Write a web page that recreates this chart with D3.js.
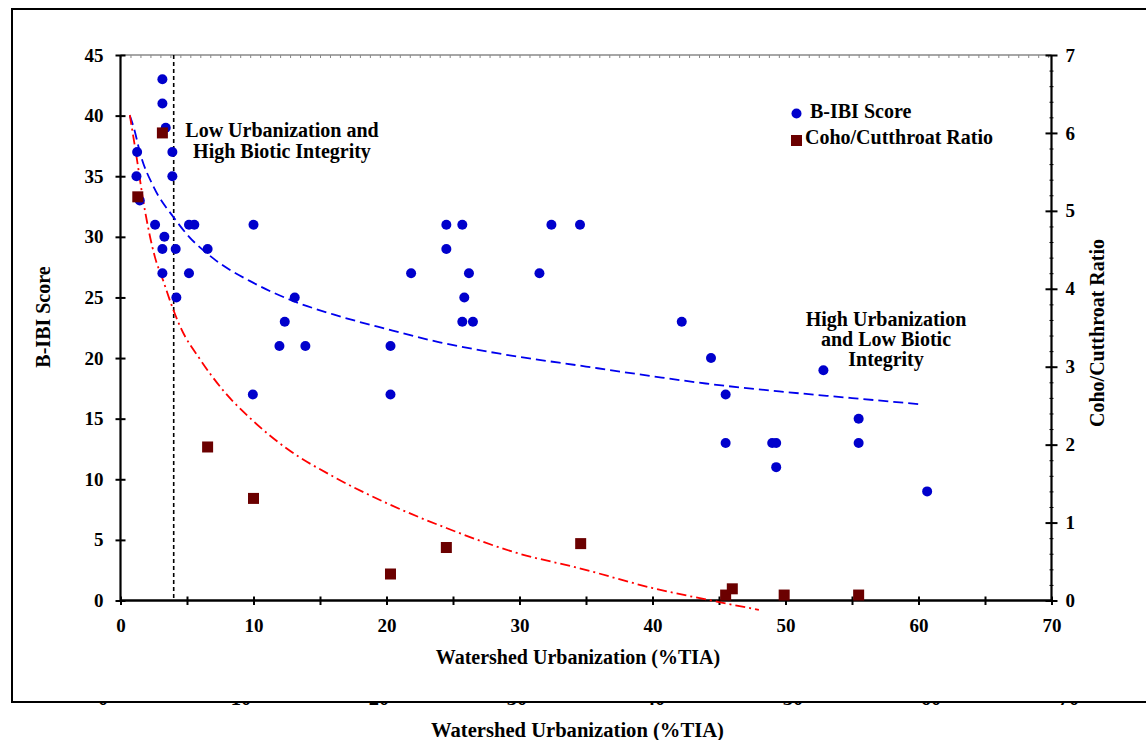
<!DOCTYPE html>
<html>
<head>
<meta charset="utf-8">
<script src="https://cdn.jsdelivr.net/npm/d3@7"></script>
<style>
  html, body { margin: 0; padding: 0; background: #fff; }
  svg text { font-family: "Liberation Serif", "Times New Roman", serif; font-weight: bold; fill: #000; }
</style>
</head>
<body>
<svg id="chart" width="1146" height="740"></svg>
<script>
// B-IBI score per watershed (% total impervious area)
const bibiTIA   = [1.25, 1.2, 1.45, 3.15, 3.15, 3.4, 3.9, 3.9, 2.6, 3.3, 3.15, 4.15, 5.15, 5.55, 6.55, 10.0,
                   3.15, 5.15, 4.2, 13.1, 12.35, 11.95, 13.9, 9.95, 20.3, 20.3, 24.5, 25.7, 24.5, 21.85, 26.2,
                   25.85, 25.7, 26.5, 32.4, 34.55, 31.5, 42.2, 44.4, 45.5, 45.5, 49.0, 49.3, 49.3, 52.85,
                   55.5, 55.5, 60.65];
const bibiScore = [37, 35, 33, 43, 41, 39, 37, 35, 31, 30, 29, 29, 31, 31, 29, 31,
                   27, 27, 25, 25, 23, 21, 21, 17, 21, 17, 31, 31, 29, 27, 27,
                   25, 23, 23, 31, 31, 27, 23, 20, 17, 13, 13, 13, 11, 19,
                   15, 13, 9];

// Coho / cutthroat ratio per watershed
const cohoTIA   = [1.3, 3.15, 6.55, 10.0, 20.3, 24.5, 34.6, 45.5, 46.0, 49.9, 55.5];
const cohoRatio = [5.18, 6.0, 1.97, 1.31, 0.34, 0.68, 0.73, 0.07, 0.15, 0.07, 0.07];

// Fitted trend curves
const bibiTrendTIA   = [0.7, 1.0, 1.5, 2.5, 4, 5, 7, 10, 13, 16, 20, 24, 28.3, 35, 40, 44, 50, 55, 60];
const bibiTrendScore = [40.0, 39.0, 36.8, 34.1, 31.6, 30.2, 28.2, 26.2, 24.7, 23.6, 22.4, 21.3, 20.4, 19.3, 18.5, 17.9, 17.2, 16.7, 16.2];
const cohoTrendTIA   = [0.7, 1.2, 1.7, 2.6, 3.2, 3.8, 4.5, 6, 7.7, 10, 12.5, 16, 20, 24.5, 29.8, 34.6, 40, 45, 48];
const cohoTrendRatio = [6.23, 5.70, 5.14, 4.40, 4.11, 3.81, 3.51, 3.09, 2.70, 2.30, 1.95, 1.59, 1.25, 0.93, 0.61, 0.41, 0.16, -0.02, -0.12];

// Threshold between low and high urbanization
const thresholdTIA = 4;

// Axis ticks
const xTicks      = [0, 5, 10, 15, 20, 25, 30, 35, 40, 45, 50, 55, 60, 65, 70];
const xTickLabels = [0, 10, 20, 30, 40, 50, 60, 70];
const yLeftTicks  = [0, 5, 10, 15, 20, 25, 30, 35, 40, 45];
const yRightTicks = [0, 1, 2, 3, 4, 5, 6, 7];

const annotLow  = ["Low Urbanization and", "High Biotic Integrity"];
const annotHigh = ["High Urbanization", "and Low Biotic", "Integrity"];
const legendLabels = ["B-IBI Score", "Coho/Cutthroat Ratio"];

const svg = d3.select("#chart");

const x  = d3.scaleLinear().domain([0, 70]).range([120.5, 1051.5]);
const yL = d3.scaleLinear().domain([0, 45]).range([600.5, 55]);
const yR = d3.scaleLinear().domain([0, 7]).range([600.5, 55]);

const BLUE = "#0000cc", MAROON = "#6b0000";
const fmtInt = d3.format("d");

// Underlying copy of the x axis, mostly hidden behind the frame
const xBack = d3.scaleLinear().domain([0, 70]).range([103, 1069]);
const back = svg.append("g");
back.selectAll("text.bk").data(xTickLabels).join("text")
  .attr("x", d => xBack(d)).attr("y", 704.5)
  .attr("text-anchor", "middle").attr("font-size", 20.5)
  .text(d => d);
back.append("text")
  .attr("x", 577.5).attr("y", 737)
  .attr("text-anchor", "middle").attr("font-size", 20.6)
  .text("Watershed Urbanization (%TIA)");

// Outer frame
svg.append("rect")
  .attr("x", 12).attr("y", 9).attr("width", 1150).attr("height", 693)
  .attr("fill", "#fff").attr("stroke", "#000").attr("stroke-width", 2);

// Top border with fine ticks
const gTop = svg.append("g").attr("transform", `translate(0,${yL(45)})`)
  .call(d3.axisTop(x).tickValues(d3.range(0, 70.01, 0.75)).tickSize(-3).tickFormat(""));
gTop.select(".domain").attr("stroke", "#888").attr("stroke-width", 1.5).attr("d", `M${x(0)},0H${x(70)}`);
gTop.selectAll(".tick line").attr("stroke", "#888").attr("stroke-width", 1);

// Bottom axis
const gX = svg.append("g").attr("transform", `translate(0,${yL(0)})`)
  .call(d3.axisBottom(x).tickValues(xTicks).tickSize(4)
    .tickFormat(d => xTickLabels.includes(d) ? fmtInt(d) : ""));
gX.select(".domain").attr("stroke", "#000").attr("stroke-width", 2.4).attr("d", `M${x(0)},0H${x(70)}`);
gX.selectAll(".tick line").attr("y1", -4).attr("y2", 4.5).attr("stroke", "#000").attr("stroke-width", 2);
gX.selectAll(".tick text").attr("y", 31).attr("dy", 0).attr("font-size", 19)
  .style("font-family", '"Liberation Serif", serif').style("font-weight", "bold").attr("fill", "#000");

// Left axis
const gL = svg.append("g").attr("transform", `translate(${x(0)},0)`)
  .call(d3.axisLeft(yL).tickValues(yLeftTicks).tickSize(5).tickFormat(fmtInt));
gL.select(".domain").attr("stroke", "#000").attr("stroke-width", 2.2).attr("d", `M0,${yL(0)}V${yL(45)}`);
gL.selectAll(".tick line").attr("x1", -5).attr("x2", 5).attr("stroke", "#000").attr("stroke-width", 2);
gL.selectAll(".tick text").attr("x", -17).attr("font-size", 19)
  .style("font-family", '"Liberation Serif", serif').style("font-weight", "bold").attr("fill", "#000");

// Right axis: fine ticks, then labelled ticks
const gR = svg.append("g").attr("transform", `translate(${x(70)},0)`)
  .call(d3.axisRight(yR).tickValues(d3.range(0, 7.001, 0.2)).tickSize(3).tickFormat(""));
gR.select(".domain").attr("stroke", "#000").attr("stroke-width", 2.2).attr("d", `M0,${yR(0)}V${yR(7)}`);
gR.selectAll(".tick line").attr("x1", -2).attr("x2", 2).attr("stroke", "#000").attr("stroke-width", 1);
const gR2 = svg.append("g").attr("transform", `translate(${x(70)},0)`)
  .call(d3.axisRight(yR).tickValues(yRightTicks).tickSize(5).tickFormat(fmtInt));
gR2.select(".domain").remove();
gR2.selectAll(".tick line").attr("x1", -6).attr("x2", 6).attr("stroke", "#000").attr("stroke-width", 2);
gR2.selectAll(".tick text").attr("x", 14).attr("font-size", 19)
  .style("font-family", '"Liberation Serif", serif').style("font-weight", "bold").attr("fill", "#000");

// Axis titles
svg.append("text").attr("x", 578).attr("y", 664).attr("text-anchor", "middle")
  .attr("font-size", 20).text("Watershed Urbanization (%TIA)");
svg.append("text").attr("transform", "translate(50,317) rotate(-90)").attr("text-anchor", "middle")
  .attr("font-size", 20).text("B-IBI Score");
svg.append("text").attr("transform", "translate(1104,333) rotate(-90)").attr("text-anchor", "middle")
  .attr("font-size", 20).text("Coho/Cutthroat Ratio");

// Threshold line
svg.append("line")
  .attr("x1", x(thresholdTIA)).attr("x2", x(thresholdTIA))
  .attr("y1", yL(45)).attr("y2", yL(0))
  .attr("stroke", "#000").attr("stroke-width", 1.6).attr("stroke-dasharray", "4,3");

// Trend curves
const bibiTrend = bibiTrendTIA.map((v, i) => [v, bibiTrendScore[i]]);
const cohoTrend = cohoTrendTIA.map((v, i) => [v, cohoTrendRatio[i]]);
svg.append("path").datum(bibiTrend)
  .attr("d", d3.line().x(d => x(d[0])).y(d => yL(d[1])).curve(d3.curveMonotoneX))
  .attr("fill", "none").attr("stroke", "#0000ee").attr("stroke-width", 1.8).attr("stroke-dasharray", "10,5");
svg.append("path").datum(cohoTrend)
  .attr("d", d3.line().x(d => x(d[0])).y(d => yR(d[1])).curve(d3.curveMonotoneX))
  .attr("fill", "none").attr("stroke", "#ff0000").attr("stroke-width", 1.8).attr("stroke-dasharray", "10,4,2,4");

// B-IBI points
svg.append("g").selectAll("circle").data(bibiTIA.map((v, i) => [v, bibiScore[i]])).join("circle")
  .attr("cx", d => x(d[0])).attr("cy", d => yL(d[1])).attr("r", 5)
  .attr("fill", BLUE);

// Coho/cutthroat points
const sq = 11;
svg.append("g").selectAll("rect").data(cohoTIA.map((v, i) => [v, cohoRatio[i]])).join("rect")
  .attr("x", d => x(d[0]) - sq / 2).attr("y", d => yR(d[1]) - sq / 2)
  .attr("width", sq).attr("height", sq).attr("fill", MAROON);

// Annotations
const aLow = svg.append("text").attr("text-anchor", "middle").attr("font-size", 20);
annotLow.forEach((t, i) => aLow.append("tspan").attr("x", 282).attr("y", 137 + i * 20.5).text(t));
const aHigh = svg.append("text").attr("text-anchor", "middle").attr("font-size", 20);
annotHigh.forEach((t, i) => aHigh.append("tspan").attr("x", 886).attr("y", 326 + i * 20).text(t));

// Legend
svg.append("circle").attr("cx", 796.5).attr("cy", 113.5).attr("r", 5).attr("fill", BLUE);
svg.append("text").attr("x", 810).attr("y", 117.5).attr("font-size", 20).text(legendLabels[0]);
svg.append("rect").attr("x", 791).attr("y", 135).attr("width", sq).attr("height", sq).attr("fill", MAROON);
svg.append("text").attr("x", 805).attr("y", 143.5).attr("font-size", 20).text(legendLabels[1]);
</script>
</body>
</html>
